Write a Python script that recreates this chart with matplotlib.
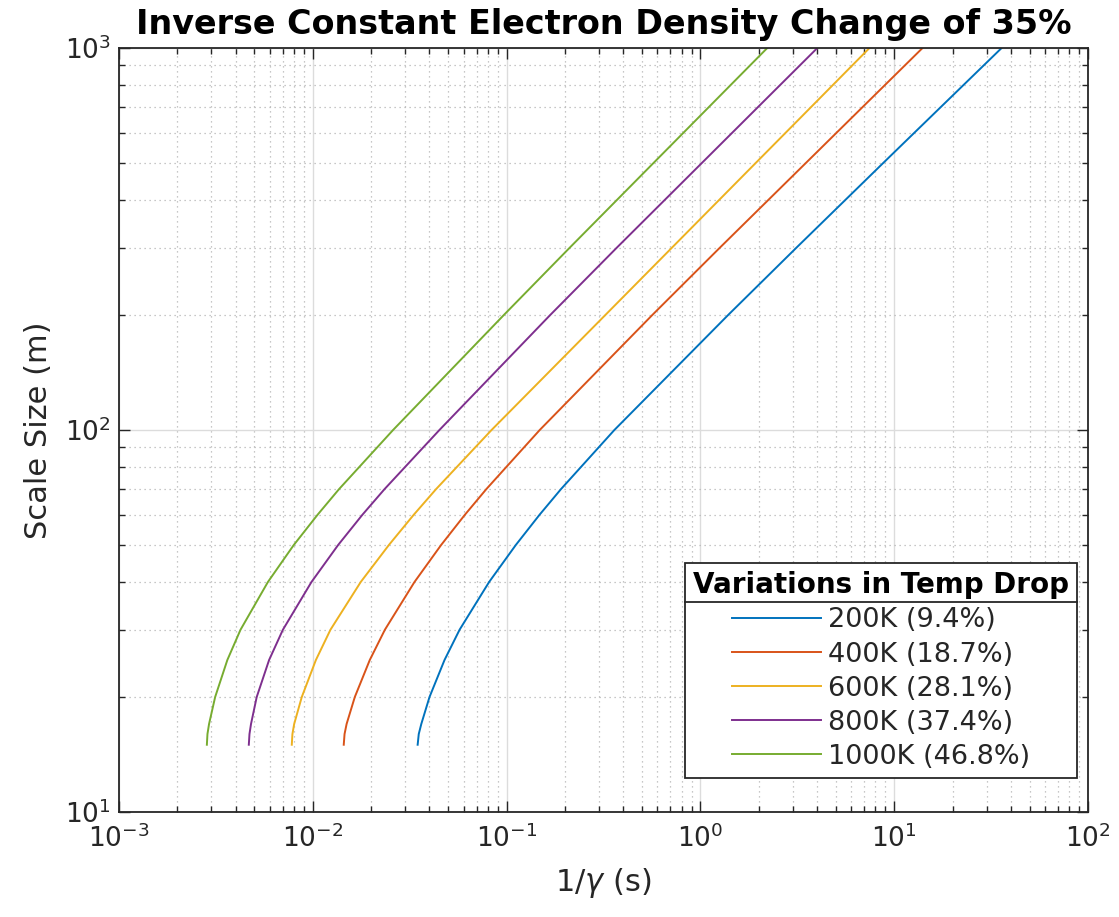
import matplotlib
matplotlib.use("Agg")
import matplotlib.pyplot as plt
from matplotlib.lines import Line2D

# scale size (m), shared by every curve
scale_size = [15, 16, 17, 20, 25, 30, 40, 50, 60, 70, 100, 200, 300, 500, 700, 1000]

# 1/gamma (s), one list per temperature drop
inv_gamma_200 = [0.03477, 0.03523, 0.03631, 0.04003, 0.04785, 0.05722, 0.08127, 0.1116,
                 0.1480, 0.1908, 0.3600, 1.391, 3.129, 8.780, 17.38, 35.85]
inv_gamma_400 = [0.01445, 0.01459, 0.01495, 0.01648, 0.01969, 0.02356, 0.03348, 0.04596,
                 0.06096, 0.07859, 0.1483, 0.5650, 1.260, 3.502, 6.864, 14.01]
inv_gamma_600 = [0.007794, 0.007854, 0.008019, 0.008777, 0.01038, 0.01234, 0.01768, 0.02471,
                 0.03320, 0.04326, 0.08368, 0.3234, 0.7130, 1.930, 3.721, 7.459]
inv_gamma_800 = [0.004678, 0.004715, 0.004802, 0.005138, 0.005953, 0.007013, 0.009847, 0.01352,
                 0.01804, 0.02345, 0.04504, 0.1680, 0.3703, 1.018, 1.981, 4.014]
inv_gamma_1000 = [0.002842, 0.002862, 0.002917, 0.003136, 0.003625, 0.004239, 0.005869, 0.007981,
                  0.01059, 0.01366, 0.02597, 0.09684, 0.2117, 0.5731, 1.105, 2.215]

labels = ["200K (9.4%)", "400K (18.7%)", "600K (28.1%)", "800K (37.4%)", "1000K (46.8%)"]
series = [inv_gamma_200, inv_gamma_400, inv_gamma_600, inv_gamma_800, inv_gamma_1000]
colors = ["#0072BD", "#D95319", "#EDB120", "#7E2F8E", "#77AC30"]

plt.rcParams['font.family'] = ['DejaVu Sans']
plt.rcParams['axes.unicode_minus'] = False
txt = '#262626'

fig = plt.figure(figsize=(11.19, 9.17), dpi=100)
ax = fig.add_axes([0.1063, 0.1145, 0.8660, 0.8332])

for xs, lab, c in zip(series, labels, colors):
    ax.plot(xs, scale_size, color=c, lw=1.4, label=lab)

ax.set_xscale('log')
ax.set_yscale('log')
ax.set_xlim(1e-3, 1e2)
ax.set_ylim(10, 1000)

ax.grid(True, which='major', color='#dcdcdc', lw=1.0, ls='-')
ax.grid(True, which='minor', color='#b5b5b5', lw=0.9, ls=(0, (1, 3)))
ax.set_axisbelow(True)

ax.tick_params(which='both', direction='in', top=True, right=True, colors=txt,
               labelsize=19, width=1.0)
ax.tick_params(which='major', length=8)
ax.tick_params(axis='y', which='major', pad=6)
ax.tick_params(axis='x', which='major', pad=9)
ax.tick_params(which='minor', length=4)
for s in ax.spines.values():
    s.set_color('#262626')
    s.set_linewidth(1.3)

ax.set_title("Inverse Constant Electron Density Change of 35%", fontsize=24,
             fontweight='bold', color='black', pad=10)
ax.set_xlabel(r"1/$\gamma$ (s)", fontsize=22, color=txt, labelpad=9)
ax.set_ylabel("Scale Size (m)", fontsize=22, color=txt, labelpad=8)

leg = ax.legend(loc='lower right', bbox_to_anchor=(0.9886, 0.0445), borderaxespad=0,
                fontsize=19.5, title="Variations in Temp Drop", handlelength=3.3,
                handletextpad=0.25, labelspacing=0.3, borderpad=0.3, fancybox=False,
                framealpha=1.0, edgecolor='#262626')
leg.get_title().set_fontweight('bold')
leg.get_title().set_fontsize(20)
leg.get_frame().set_linewidth(1.3)
for t in leg.get_texts():
    t.set_color(txt)

# separator line under the legend title, like MATLAB draws it
fig.canvas.draw()
r = fig.canvas.get_renderer()
fb = leg.get_frame().get_window_extent(r)
tb = leg.get_title().get_window_extent(r)
yline = tb.y0 - 3
inv = fig.transFigure.inverted()
x0, y0 = inv.transform((fb.x0, yline))
x1, _ = inv.transform((fb.x1, yline))
fig.add_artist(Line2D([x0, x1], [y0, y0], color='#262626', lw=1.3))

fig.savefig("out.png", dpi=100)
